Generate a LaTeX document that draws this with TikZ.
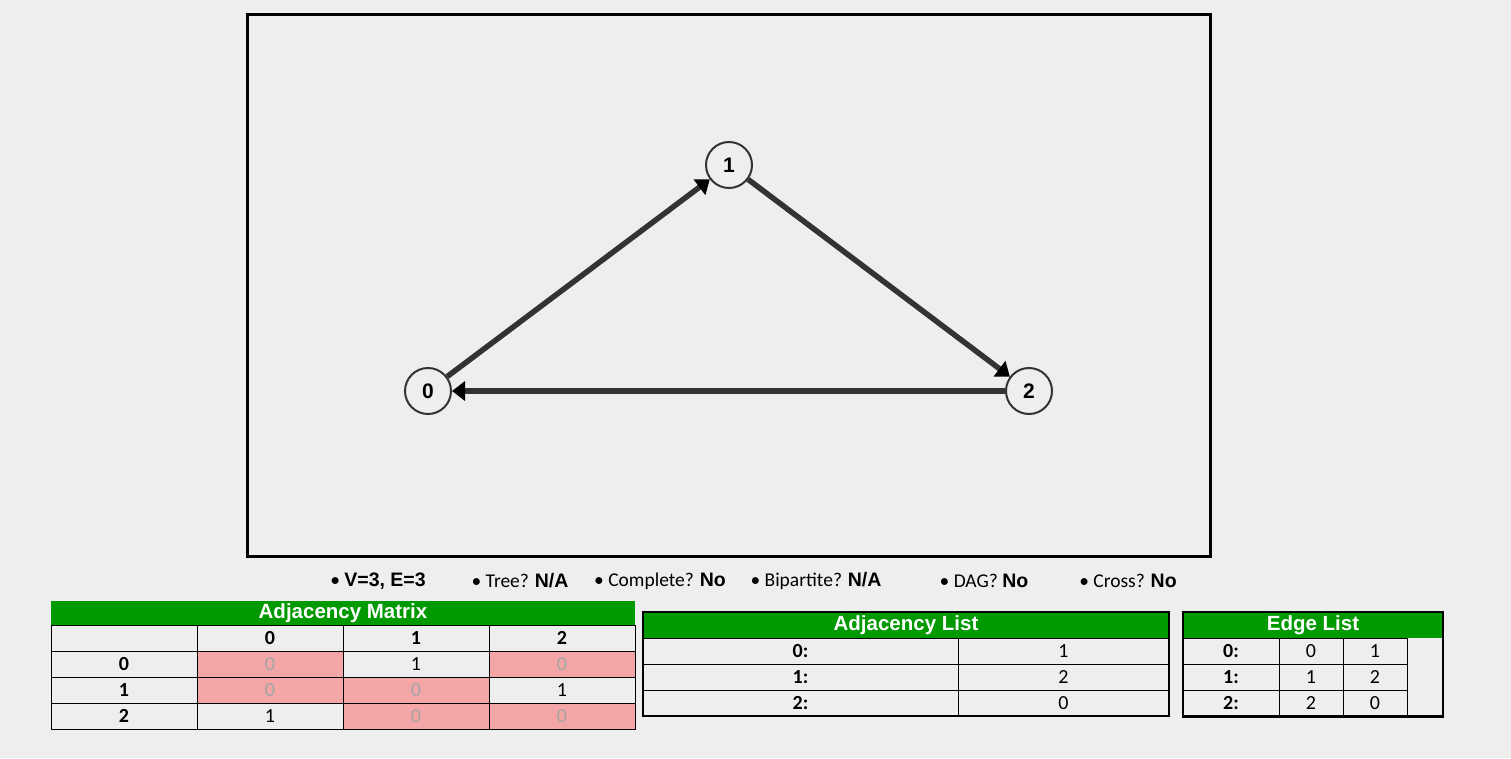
\documentclass[tikz,border=0pt]{standalone}
\usepackage{fontspec}
\usepackage{tikz}
\usetikzlibrary{arrows.meta}
\setmainfont{Carlito}
\newfontfamily\headfont{Liberation Sans}
\definecolor{bgcol}{HTML}{EEEEEE}
\definecolor{edgecol}{HTML}{333333}
\definecolor{headgreen}{HTML}{009900}
\definecolor{cellpink}{HTML}{F4A6A6}
\definecolor{zerogray}{HTML}{A5A5A5}
\newcommand\ans[1]{{\headfont\bfseries #1}}

\begin{document}
\begin{tikzpicture}[x=1pt, y=-1pt,
  vtx/.style={
    circle, draw=edgecol, line width=2pt, fill=bgcol,
    inner sep=0pt, minimum size=46pt,
    font=\headfont\bfseries\fontsize{21}{25}\selectfont
  },
  arc/.style={
    draw=edgecol, line width=5.5pt,
    -{Triangle[length=13pt, width=19pt, color=black]}
  },
  title/.style={
    fill=headgreen, text=white, inner sep=0pt,
    minimum height=25pt,
    font=\headfont\bfseries\fontsize{20.5}{24}\selectfont
  },
  cell/.style={
    draw=black, line width=1pt, inner sep=0pt,
    minimum height=26pt, font=\fontsize{20}{24}\selectfont
  },
  lbl/.style={cell, font=\bfseries\fontsize{20}{24}\selectfont},
  mv0/.style={fill=cellpink, text=zerogray},
  mv1/.style={},
  info/.style={inner sep=0pt, font=\fontsize{19.5}{23}\selectfont}
]
  \fill[bgcol] (0,0) rectangle (1511,758);
  \useasboundingbox (0,0) rectangle (1511,758);
  \draw[line width=3pt] (247.5,14.5) rectangle (1210.5,556.5);
  % graph
  \foreach \i/\x/\y in {0/428/391,1/729/165,2/1029/391} {
    \node[vtx] (v\i) at (\x,\y){\i};
  }
  \draw[arc] (v0)--(v1);
  \draw[arc] (v1)--(v2);
  \draw[arc] (v2)--(v0);
  % properties
  \node[info] (nv) at (378,581){\textbullet\ \ans{V=3, E=3}};
  \node[info] (tree) at (520,581){\textbullet\ Tree? \ans{N/A}};
  \node[info] (compl) at (660,581){\textbullet\ Complete? \ans{No}};
  \node[info] (bip) at (816,581){\textbullet\ Bipartite? \ans{N/A}};
  \node[info] (dag) at (984,581){\textbullet\ DAG? \ans{No}};
  \node[info] (cross) at (1128,581){\textbullet\ Cross? \ans{No}};
  % adjacency matrix
  \node[title, minimum width=584pt] (mtitle) at (343,613){Adjacency Matrix};
  \node[cell, minimum width=146pt] (mhead) at (124,638){};
  \foreach \k in {0,1,2} {
    \node[lbl, minimum width=146pt] (mc\k) at (270+146*\k,638){\k};
  }
  \foreach \r/\va/\vb/\vc in {0/0/1/0,1/0/0/1,2/1/0/0} {
    \node[lbl, minimum width=146pt] (mr\r) at (124,664+26*\r){\r};
    \foreach \v [count=\k from 0] in {\va,\vb,\vc} {
      \node[cell, mv\v, minimum width=146pt] (m\r\k) at (270+146*\k,664+26*\r){\v};
    }
  }
  % adjacency list
  \node[title, minimum width=526pt, minimum height=26pt] (atitle) at (906,625){Adjacency List};
  \foreach \r/\nb in {0/1,1/2,2/0} {
    \node[lbl, minimum width=315pt] (ar\r) at (800.5,651+26*\r){\r:};
    \node[cell, minimum width=211pt] (av\r) at (1063.5,651+26*\r){\nb};
  }
  \draw[line width=2.5pt] (643,612) rectangle (1169,716);
  % edge list
  \node[title, minimum width=260pt, minimum height=26pt] (etitle) at (1313,625){Edge List};
  \foreach \r/\src/\dst in {0/0/1,1/1/2,2/2/0} {
    \node[lbl, minimum width=96pt] (er\r) at (1231,651+26*\r){\r:};
    \node[cell, minimum width=64pt] (es\r) at (1311,651+26*\r){\src};
    \node[cell, minimum width=64pt] (ed\r) at (1375,651+26*\r){\dst};
  }
  \draw[line width=2.5pt] (1183,612) rectangle (1443,716.5);
\end{tikzpicture}
\end{document}
